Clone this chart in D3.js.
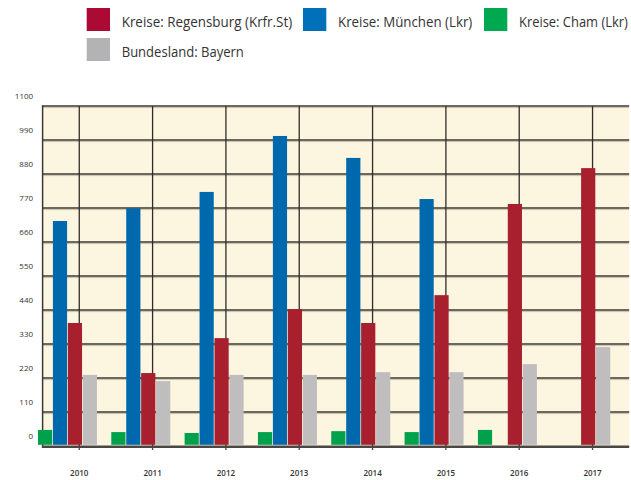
<!DOCTYPE html>
<html>
<head>
<meta charset="utf-8">
<script src="https://cdn.jsdelivr.net/npm/d3@7"></script>
<style>
  body { margin: 0; background: #fff; }
  svg { display: block; font-family: "Open Sans", "Noto Sans", sans-serif; }
</style>
</head>
<body>
<svg width="631" height="480"></svg>
<script>
// data
var years = ["2010", "2011", "2012", "2013", "2014", "2015", "2016", "2017"];
var regensburg = [398, 236, 349, 443, 398, 488, 783, 899];
var muenchen = [728, 769, 822, 1003, 932, 799, null, null];
var cham = [52, 45, 42, 45, 48, 45, 52, null];
var bayern = [230, 210, 230, 230, 239, 239, 265, 320];
var yTicks = [0, 110, 220, 330, 440, 550, 660, 770, 880, 990, 1100];

var series = [
  { key: "cham", name: "Kreise: Cham (Lkr)", values: cham, bar: "#00a14b", leg: "#00a94f" },
  { key: "muenchen", name: "Kreise: München (Lkr)", values: muenchen, bar: "#0068ac", leg: "#0070b8" },
  { key: "regensburg", name: "Kreise: Regensburg (Krfr.St)", values: regensburg, bar: "#a81f2e", leg: "#aa0a33" },
  { key: "bayern", name: "Bundesland: Bayern", values: bayern, bar: "#c0bdbe", leg: "#b3b3b5" }
];

var svg = d3.select("svg");
var pLeft = 42.6, pRight = 629.2, pTop = 106, pBottom = 446;

var x = d3.scaleBand().domain(years).range([pLeft, pRight]).padding(0);
var xc = function(d) { return x(d) + x.bandwidth() / 2; };
var sub = d3.scaleBand().domain(series.map(function(s) { return s.key; }))
  .range([-41.3, 17.7]).paddingInner(0.05);
var y = d3.scaleLinear().domain([0, 1100]).range([pBottom, pTop]);

// plot background
svg.append("rect")
  .attr("x", pLeft).attr("y", pTop)
  .attr("width", pRight - pLeft).attr("height", pBottom - pTop)
  .attr("fill", "#fcf5e0");

// horizontal grid with a soft shadow
var grid = svg.append("g");
grid.selectAll("line.sh")
  .data(yTicks.filter(function(d) { return d > 0; }))
  .enter().append("line")
  .attr("class", "sh")
  .attr("x1", pLeft).attr("x2", pRight)
  .attr("y1", function(d) { return y(d) + 1.6; })
  .attr("y2", function(d) { return y(d) + 1.6; })
  .attr("stroke", "#c9c0aa").attr("stroke-width", 1);
grid.selectAll("line.h")
  .data(yTicks.filter(function(d) { return d > 0; }))
  .enter().append("line")
  .attr("class", "h")
  .attr("x1", pLeft).attr("x2", pRight)
  .attr("y1", function(d) { return y(d); })
  .attr("y2", function(d) { return y(d); })
  .attr("stroke", "#3a3835").attr("stroke-width", 1.4);

// vertical grid at the years
grid.selectAll("line.v")
  .data(years)
  .enter().append("line")
  .attr("class", "v")
  .attr("x1", xc).attr("x2", xc)
  .attr("y1", pTop).attr("y2", pBottom)
  .attr("stroke", "#2f2d2b").attr("stroke-width", 1.3);

grid.append("line")
  .attr("x1", pLeft).attr("x2", pLeft)
  .attr("y1", pTop - 0.7).attr("y2", pBottom + 2)
  .attr("stroke", "#3a3835").attr("stroke-width", 1.5);

// bars
series.forEach(function(s) {
  svg.append("g")
    .selectAll("rect")
    .data(years.map(function(yr, i) { return { year: yr, v: s.values[i] }; })
      .filter(function(d) { return d.v != null; }))
    .enter().append("rect")
    .attr("x", function(d) { return xc(d.year) + sub(s.key); })
    .attr("width", sub.bandwidth())
    .attr("y", function(d) { return y(d.v); })
    .attr("height", function(d) { return y(0) - y(d.v) - 1.2; })
    .attr("fill", s.bar);
});

// baseline
svg.append("line")
  .attr("x1", pLeft - 0.7).attr("x2", pRight)
  .attr("y1", pBottom + 0.8).attr("y2", pBottom + 0.8)
  .attr("stroke", "#4a4845").attr("stroke-width", 2.4);
svg.append("g").selectAll("line")
  .data(years)
  .enter().append("line")
  .attr("x1", xc).attr("x2", xc)
  .attr("y1", pBottom).attr("y2", pBottom + 4)
  .attr("stroke", "#4a4845").attr("stroke-width", 1.3);

// y axis labels (sit above their grid line, as in the original)
var yAxis = d3.axisLeft(y).tickValues(yTicks).tickFormat(d3.format("d"))
  .tickSize(0).tickPadding(9.5);
var ya = svg.append("g")
  .attr("transform", "translate(" + pLeft + ",0)")
  .call(yAxis);
ya.select(".domain").remove();
ya.selectAll("text")
  .attr("dy", "-0.95em")
  .attr("fill", "#333")
  .style("font-family", "'Open Sans', sans-serif")
  .style("font-size", "8px");

// x axis labels
var xAxis = d3.axisBottom(x).tickSize(0).tickPadding(0);
var xa = svg.append("g")
  .attr("transform", "translate(0," + (pBottom + 24) + ")")
  .call(xAxis);
xa.select(".domain").remove();
xa.selectAll("text")
  .attr("fill", "#333")
  .style("font-family", "'Open Sans', sans-serif")
  .style("font-size", "8px")
  .style("font-weight", "600");

// legend (widths, the original face is narrower)
var legendItems = [
  { s: series[2], x: 86.7, y: 8, w: 170.6 },
  { s: series[1], x: 303, y: 8, w: 134.4 },
  { s: series[0], x: 484, y: 8, w: 109 },
  { s: series[3], x: 86.7, y: 38, w: 122.3 }
];
var lg = svg.append("g").selectAll("g")
  .data(legendItems)
  .enter().append("g")
  .attr("transform", function(d) { return "translate(" + d.x + "," + d.y + ")"; });
lg.append("rect")
  .attr("width", 23.3).attr("height", 23)
  .attr("fill", function(d) { return d.s.leg; });
lg.append("text")
  .attr("y", 18.6)
  .attr("fill", "#333")
  .style("font-size", "14.5px")
  .text(function(d) { return d.s.name; })
  .attr("transform", function(d) {
    var sx = d.w / this.getComputedTextLength();
    return "translate(35,0) scale(" + sx + ",1)";
  });
</script>
</body>
</html>
